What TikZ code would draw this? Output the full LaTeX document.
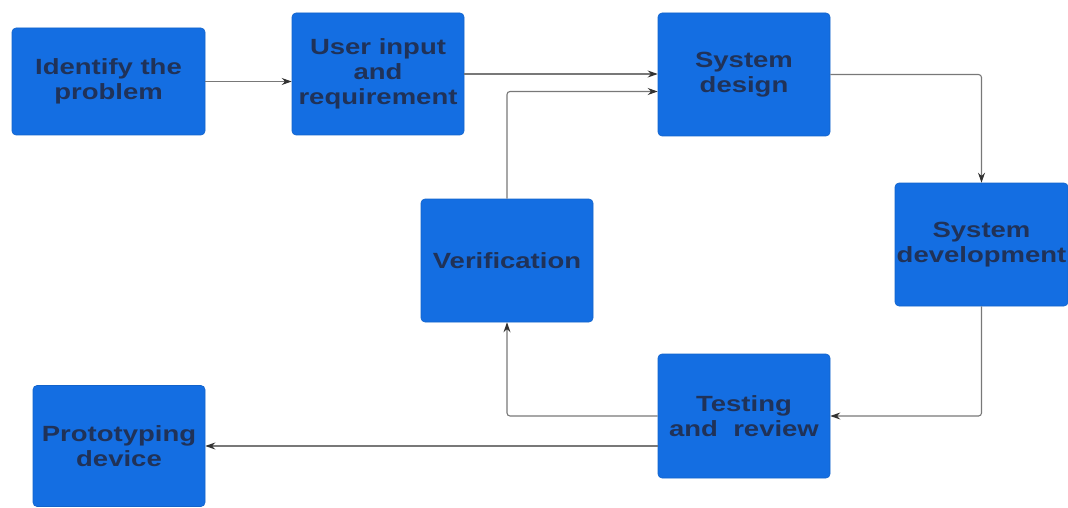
\documentclass[tikz,border=0pt]{standalone}
\usepackage{fontspec}
\setmainfont[FakeStretch=1.25]{Liberation Sans}
\usetikzlibrary{arrows.meta}
\definecolor{boxblue}{RGB}{20,110,226}
\definecolor{txt}{RGB}{32,50,88}
\definecolor{lin}{RGB}{120,120,120}
\definecolor{tip}{RGB}{50,50,50}
\tikzset{
  blk/.style={draw=boxblue!90!black, line width=0.6pt, fill=boxblue, rounded corners=4pt,
    inner sep=0pt, align=center, text=txt, font=\fontsize{22}{25}\selectfont\bfseries},
  arr/.style={draw=lin, line width=1.1pt, rounded corners=3pt,
    -{Stealth[length=10pt,width=7pt,fill=tip,color=tip]}}
}
\begin{document}
\begin{tikzpicture}[x=1pt,y=-1pt]
\useasboundingbox (0,0) rectangle (1068,508);
\node[blk, minimum width=193pt, minimum height=107pt] (id) at (108.5,81.5) {Identify the\\problem};
\node[blk, minimum width=172pt, minimum height=122pt] (ui) at (378,74) {User input\\and\\requirement};
\node[blk, minimum width=172pt, minimum height=123pt] (sd) at (744,74.5) {System\\design};
\node[blk, minimum width=173pt, minimum height=123pt] (dev) at (981.5,244.5) {System\\development};
\node[blk, minimum width=172pt, minimum height=123pt] (ver) at (507,260.5) {Verification};
\node[blk, minimum width=172pt, minimum height=124pt] (tr) at (744,416) {Testing\\and\ \ review};
\node[blk, minimum width=172pt, minimum height=121pt] (pd) at (119,446) {Prototyping\\device};

\draw[arr] (id.east) -- (ui.west |- id.east);
\draw[arr] (ui.east) -- (sd.west |- ui.east);
\draw[arr] (ver.north) |- ([yshift=-17pt]sd.west);
\draw[arr] (sd.east) -| (dev.north);
\draw[arr] (dev.south) |- (tr.east);
\draw[arr] (tr.west) -| (ver.south);
\draw[arr] (tr.west |- pd.east) -- (pd.east);
\end{tikzpicture}
\end{document}
